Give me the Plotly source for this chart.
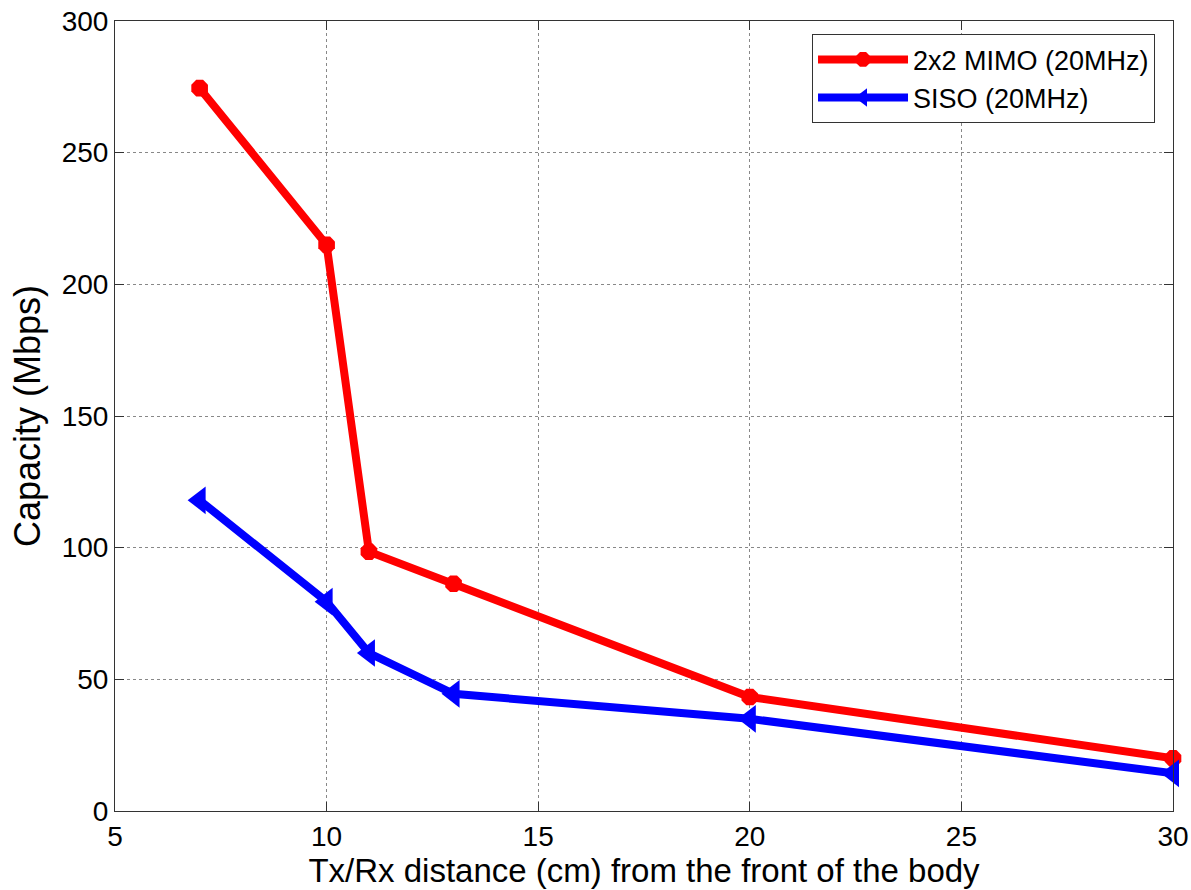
import plotly.graph_objects as go

distance = [7, 10, 11, 13, 20, 30]
mimo = [274.5, 215, 98.5, 86.3, 43.3, 20]
siso = [118, 79.5, 60, 44.5, 35, 14.3]

fig = go.Figure()
fig.add_trace(go.Scatter(x=distance, y=mimo, mode="lines+markers", name="2x2 MIMO (20MHz)",
                         line=dict(color="#ff0000", width=8),
                         marker=dict(symbol="octagon", size=18, color="#ff0000"), cliponaxis=False))
fig.add_trace(go.Scatter(x=distance, y=siso, mode="lines+markers", name="SISO (20MHz)",
                         line=dict(color="#0000ff", width=8),
                         marker=dict(symbol="triangle-left", size=24, color="#0000ff"), cliponaxis=False))

axis_common = dict(showline=True, linecolor="#333333", linewidth=1, mirror="ticks",
                   ticks="inside", ticklen=9, tickcolor="#333333", automargin=False,
                   showgrid=True, gridcolor="#888888", griddash="dot", gridwidth=1,
                   zeroline=False, tickfont=dict(size=28, color="black"))
fig.update_xaxes(range=[5, 30], dtick=5, tick0=5,
                 title=dict(text="Tx/Rx distance (cm) from the front of the body", font=dict(size=33, color="black"), standoff=1),
                 **axis_common)
fig.update_yaxes(range=[0, 300], dtick=50,
                 title=dict(text="Capacity (Mbps)", font=dict(size=36, color="black"), standoff=10),
                 **axis_common)
fig.update_layout(width=1191, height=890, plot_bgcolor="white", paper_bgcolor="white",
                  font=dict(family="Liberation Sans, Arial, sans-serif", color="black"),
                  margin=dict(l=115, r=18, t=21, b=79, autoexpand=False),
                  legend=dict(x=0.983, y=0.983, xanchor="right", yanchor="top",
                              bgcolor="white", bordercolor="#333333", borderwidth=1,
                              font=dict(size=27), itemwidth=90, tracegroupgap=0),
                  showlegend=True)
fig.write_html("out.html")
